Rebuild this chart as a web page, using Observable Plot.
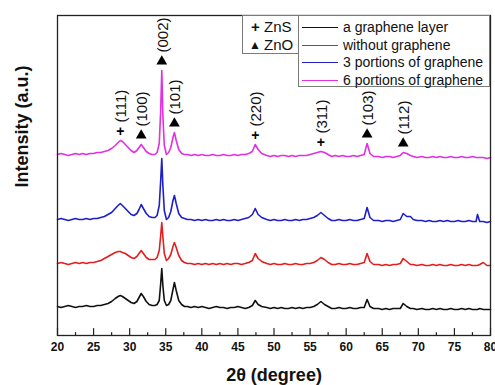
<!DOCTYPE html>
<html><head><meta charset="utf-8">
<script src="https://cdn.jsdelivr.net/npm/d3@7"></script>
<script src="https://cdn.jsdelivr.net/npm/@observablehq/plot@0.6"></script>
<style>
html,body{margin:0;padding:0;background:#fff;}
#wrap{position:relative;width:495px;height:385px;overflow:hidden;font-family:"Liberation Sans",Arial,sans-serif;}
#wrap svg{position:absolute;left:0;top:0;}
.box{position:absolute;background:#fff;border:1px solid #7a7a7a;box-sizing:border-box;}
.row{position:absolute;left:0;right:0;height:18px;line-height:18px;color:#111;white-space:nowrap;}
.row span{position:absolute;top:0;}
.swatch{position:absolute;top:9px;height:1px;}
</style></head><body><div id="wrap"></div>
<script>
// 2θ sampling (degrees)
const angle = [
20, 20.5, 21, 21.5, 22, 22.5, 23, 23.5, 24, 24.5,
25, 25.5, 26, 26.5, 27, 27.5, 28, 28.4, 28.7, 29,
29.4, 29.8, 30.2, 30.6, 31, 31.3, 31.6, 31.9, 32.3, 32.7,
33.1, 33.5, 33.8, 34.1, 34.3, 34.45, 34.6, 34.8, 35.1, 35.4,
35.7, 36, 36.2, 36.45, 36.8, 37.2, 37.6, 38, 38.5, 39,
39.5, 40, 40.5, 41, 41.5, 42, 42.5, 43, 43.5, 44,
44.5, 45, 45.5, 46, 46.5, 47, 47.4, 47.8, 48.3, 49,
49.5, 50, 50.5, 51, 51.5, 52, 52.5, 53, 53.5, 54,
54.5, 55, 55.5, 56, 56.5, 57, 57.5, 58, 58.5, 59,
59.5, 60, 60.5, 61, 61.5, 62, 62.5, 62.9, 63.3, 63.8,
64.5, 65, 65.5, 66, 66.5, 67, 67.5, 67.9, 68.4, 68.9,
69.3, 69.8, 70.5, 71, 71.5, 72, 72.5, 73, 73.5, 74,
74.5, 75, 75.5, 76, 76.5, 77, 77.5, 78, 78.2, 78.5,
79, 79.5, 80
];
// intensities (a.u., stacked)
const grapheneLayer = [
29, 28, 29, 30, 29, 28, 29, 29, 30, 29,
29, 30, 30, 31, 32, 34, 37, 39, 40, 39,
37, 35, 33, 32, 34, 38, 42, 39, 34, 31,
30, 30, 31, 35, 52, 67, 50, 35, 30, 31,
35, 46, 53, 45, 35, 31, 29, 29, 28, 29,
28, 29, 28, 27, 28, 29, 28, 28, 27, 28,
28, 29, 28, 27, 28, 30, 35, 31, 29, 28,
27, 28, 27, 28, 27, 27, 28, 27, 28, 27,
28, 28, 29, 31, 34, 31, 29, 27, 27, 28,
27, 27, 28, 27, 27, 28, 28, 36, 29, 27,
27, 26, 27, 26, 27, 27, 27, 32, 29, 27,
27, 26, 27, 26, 26, 27, 26, 27, 26, 26,
27, 26, 26, 27, 26, 27, 26, 26, 26, 27,
26, 26, 26
];
const withoutGraphene = [
72, 73, 72, 71, 72, 73, 72, 73, 72, 73,
73, 74, 75, 77, 79, 81, 83, 84, 84, 83,
82, 80, 78, 77, 79, 82, 85, 82, 78, 76,
76, 76, 78, 85, 100, 113, 99, 82, 75, 77,
81, 89, 93, 88, 80, 75, 73, 72, 72, 71,
72, 71, 72, 71, 72, 71, 72, 71, 72, 71,
72, 72, 71, 72, 73, 75, 82, 77, 74, 72,
71, 72, 71, 71, 72, 71, 71, 72, 71, 71,
72, 72, 73, 75, 78, 76, 73, 71, 71, 72,
71, 71, 72, 71, 71, 72, 73, 82, 74, 71,
71, 70, 71, 70, 71, 71, 72, 77, 74, 71,
71, 70, 71, 70, 70, 71, 70, 71, 70, 70,
71, 70, 70, 71, 70, 71, 70, 70, 70, 71,
73, 70, 70
];
const threePortions = [
116, 117, 116, 115, 116, 117, 116, 116, 117, 116,
117, 117, 118, 119, 121, 123, 127, 130, 132, 130,
127, 124, 121, 120, 122, 126, 131, 127, 122, 119,
118, 118, 120, 130, 155, 177, 150, 125, 116, 118,
124, 135, 140, 132, 122, 118, 117, 116, 116, 115,
116, 115, 116, 115, 115, 116, 115, 116, 115, 115,
116, 115, 116, 117, 118, 121, 127, 121, 118, 116,
115, 116, 115, 115, 116, 115, 115, 116, 115, 116,
116, 117, 118, 120, 123, 120, 117, 115, 115, 116,
115, 115, 116, 115, 115, 116, 117, 128, 118, 115,
115, 114, 115, 115, 114, 115, 116, 122, 119, 119,
116, 115, 115, 114, 115, 114, 114, 115, 114, 115,
114, 114, 115, 114, 114, 115, 114, 114, 121, 114,
114, 113, 114
];
const sixPortions = [
181, 182, 181, 180, 181, 182, 181, 182, 181, 182,
182, 183, 183, 184, 185, 187, 190, 193, 195, 194,
191, 188, 185, 183, 185, 188, 191, 188, 184, 182,
181, 181, 183, 192, 225, 265, 220, 190, 181, 183,
188, 198, 203, 195, 186, 182, 181, 181, 180, 181,
180, 181, 180, 180, 181, 180, 180, 181, 180, 180,
181, 180, 181, 181, 182, 184, 191, 186, 182, 180,
179, 180, 179, 180, 180, 179, 180, 179, 180, 180,
180, 181, 182, 183, 184, 183, 181, 179, 180, 179,
180, 179, 179, 180, 179, 180, 181, 192, 182, 179,
179, 178, 179, 179, 178, 179, 180, 183, 182, 180,
179, 178, 179, 178, 178, 179, 178, 179, 178, 178,
179, 178, 178, 179, 178, 178, 179, 178, 178, 178,
178, 177, 178
];
const seriesNames = ["a graphene layer", "without graphene", "3 portions of graphene", "6 portions of graphene"];
const seriesColors = ["#111111", "#e31e1e", "#1f1fc8", "#e030e0"];
const xTicks = [20, 25, 30, 35, 40, 45, 50, 55, 60, 65, 70, 75, 80];
const xMinorTicks = [22.5, 27.5, 32.5, 37.5, 42.5, 47.5, 52.5, 57.5, 62.5, 67.5, 72.5, 77.5];
const peakAngle = [28.7, 31.6, 34.45, 36.2, 47.4, 56.5, 62.9, 67.9];
const peakHkl = ["(111)", "(100)", "(002)", "(101)", "(220)", "(311)", "(103)", "(112)"];
const peakPhase = ["ZnS", "ZnO", "ZnO", "ZnO", "ZnS", "ZnS", "ZnO", "ZnO"];
const phaseNames = ["ZnS", "ZnO"];
const phaseSymbols = ["+", "▲"];
const xTitle = "2θ (degree)";
const yTitle = "Intensity (a.u.)";

const seriesValues = [grapheneLayer, withoutGraphene, threePortions, sixPortions];
const rows = [];
seriesValues.forEach((vals, s) => vals.forEach((v, i) => rows.push({x: angle[i], y: v, name: seriesNames[s]})));
const peaks = peakAngle.map((a, i) => ({x: a, y: sixPortions[angle.indexOf(a)], hkl: peakHkl[i], phase: peakPhase[i]}));
const tickShape = {draw(c, l) { c.moveTo(0, 0); c.lineTo(0, -l); }};
const font = "'Liberation Sans', Arial, sans-serif";

const chart = Plot.plot({
  width: 495, height: 385,
  marginLeft: 57, marginRight: 5, marginTop: 15, marginBottom: 50,
  x: {domain: [20, 80]},
  y: {domain: [0, 320], axis: null},
  color: {domain: seriesNames, range: seriesColors},
  style: {fontFamily: font, background: "white", color: "#111"},
  marks: [
    Plot.line(rows, {x: "x", y: "y", z: "name", stroke: "name", strokeWidth: 1.6}),
    Plot.dot(peaks.filter(d => d.phase === "ZnO"), {x: "x", y: "y", dy: -9, symbol: "triangle", fill: "#000", r: 4}),
    Plot.text(peaks.filter(d => d.phase === "ZnS"), {x: "x", y: "y", dy: -9, text: () => phaseSymbols[0], fontSize: 14, fontWeight: "bold", fill: "#000"}),
    Plot.text(peaks, {x: "x", y: "y", dy: -18, dx: 1, text: "hkl", rotate: -90, textAnchor: "start", lineAnchor: "middle", fontSize: 15, fill: "#111"}),
    Plot.vector(xTicks, {x: d => d, frameAnchor: "bottom", length: 7, anchor: "start", shape: tickShape, stroke: "#222", strokeWidth: 1.2}),
    Plot.vector(xMinorTicks, {x: d => d, frameAnchor: "bottom", length: 3, anchor: "start", shape: tickShape, stroke: "#222", strokeWidth: 1.2}),
    Plot.axisX({ticks: xTicks, tickSize: 0, tickPadding: 7, fontSize: 12, fontWeight: "bold", label: null, tickFormat: d => String(d)}),
    Plot.frame({stroke: "#222", strokeWidth: 1.3}),
    Plot.text([xTitle], {frameAnchor: "bottom", dy: 40, fontSize: 18, fontWeight: "bold", lineAnchor: "middle", fill: "#111"}),
    Plot.text([yTitle], {frameAnchor: "left", dx: -35, dy: 12, rotate: -90, fontSize: 18, fontWeight: "bold", fill: "#111"})
  ]
});
const wrap = document.getElementById("wrap");
wrap.appendChild(chart);

// legend boxes
const box1 = document.createElement("div");
box1.className = "box";
Object.assign(box1.style, {left: "242px", top: "15px", width: "57px", height: "39px"});
phaseNames.forEach((p, i) => {
  const r = document.createElement("div");
  r.className = "row";
  r.style.top = (2 + i * 17.5) + "px";
  r.style.fontSize = "15px";
  r.innerHTML = `<span style="left:${i === 0 ? 8 : 6}px;font-size:${i === 0 ? 15 : 12}px;font-weight:bold">${phaseSymbols[i]}</span><span style="left:21px">${p}</span>`;
  box1.appendChild(r);
});
wrap.appendChild(box1);

const box2 = document.createElement("div");
box2.className = "box";
Object.assign(box2.style, {left: "298px", top: "15px", width: "192px", height: "72px"});
seriesNames.forEach((n, i) => {
  const r = document.createElement("div");
  r.className = "row";
  r.style.top = (2 + i * 17.7) + "px";
  r.style.fontSize = "14px";
  r.innerHTML = `<div class="swatch" style="left:3px;width:36px;background:${seriesColors[i]}"></div><span style="left:44px">${n}</span>`;
  box2.appendChild(r);
});
wrap.appendChild(box2);
</script>
</body></html>
